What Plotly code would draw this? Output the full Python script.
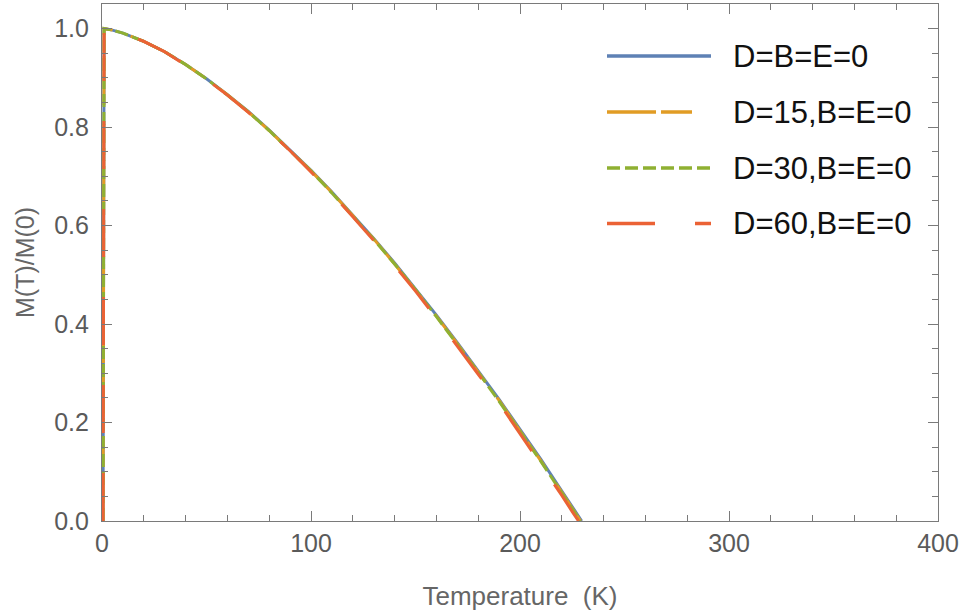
import plotly.graph_objects as go

# ---- data ----
temp_blue = [0.5, 1.0, 5, 10, 20, 30, 40, 50, 60, 70, 80, 90, 100, 110, 120, 130, 140, 150,
             160, 170, 180, 190, 200, 210, 220, 225, 229.5]
m_blue = [0.0, 1.0, 0.997, 0.991, 0.974, 0.953, 0.927, 0.898, 0.866, 0.832, 0.794, 0.754, 0.712,
          0.668, 0.622, 0.574, 0.524, 0.472, 0.418, 0.362, 0.305, 0.247, 0.186, 0.125, 0.061,
          0.029, 0.0]

temp_orange = [0.5, 1.0, 5, 10, 20, 30, 40, 50, 60, 70, 80, 90, 100, 110, 120, 130, 140, 150,
               160, 170, 180, 190, 200, 210, 220, 225, 229.0]
m_orange = [0.0, 1.0, 0.997, 0.991, 0.974, 0.953, 0.927, 0.898, 0.866, 0.831, 0.793, 0.753, 0.711,
            0.667, 0.621, 0.573, 0.522, 0.470, 0.416, 0.360, 0.303, 0.245, 0.183, 0.122, 0.058,
            0.026, 0.0]

temp_green = [0.5, 1.0, 5, 10, 20, 30, 40, 50, 60, 70, 80, 90, 100, 110, 120, 130, 140, 150,
              160, 170, 180, 190, 200, 210, 220, 225, 228.8]
m_green = [0.0, 1.0, 0.997, 0.991, 0.974, 0.953, 0.927, 0.898, 0.865, 0.831, 0.793, 0.753, 0.711,
           0.666, 0.620, 0.572, 0.522, 0.470, 0.415, 0.359, 0.302, 0.243, 0.182, 0.121, 0.057,
           0.025, 0.0]

temp_red = [0.5, 1.0, 5, 10, 20, 30, 40, 50, 60, 70, 80, 90, 100, 110, 120, 130, 140, 150,
            160, 170, 180, 190, 200, 210, 220, 225, 228.0]
m_red = [0.0, 1.0, 0.997, 0.991, 0.974, 0.953, 0.926, 0.897, 0.865, 0.830, 0.792, 0.752, 0.709,
         0.665, 0.618, 0.570, 0.519, 0.467, 0.412, 0.356, 0.298, 0.240, 0.178, 0.116, 0.052,
         0.019, 0.0]

labels = ["D=B=E=0", "D=15,B=E=0", "D=30,B=E=0", "D=60,B=E=0"]
colors = ["#5E81B5", "#E19C24", "#8FB032", "#EB6235"]
dashes = ["solid", "49px,5px,31px,19px", "13px,5px", "48px,40px"]

series = [(temp_blue, m_blue), (temp_orange, m_orange), (temp_green, m_green), (temp_red, m_red)]

# ---- layout constants ----
W, H = 963, 616
ML, MR, MT, MB = 102, 25, 4, 95
PW, PH = W - ML - MR, H - MT - MB
FRAME = "#7a7a7a"
TICKTXT = "#5a5a5a"
FONT = "Liberation Sans, Arial"

fig = go.Figure()
for (tx, my), name, col, dsh in zip(series, labels, colors, dashes):
    fig.add_trace(go.Scatter(x=tx, y=my, mode="lines", name=name,
                             line=dict(color=col, width=3, dash=dsh),
                             showlegend=False))

# legend drawn to look like the Mathematica legend
def px2paper(px, py):
    return (px - ML) / PW, (H - MB - py) / PH

row_y = [56, 112, 168, 223.5]
for name, col, dsh, ry in zip(labels, colors, dashes, row_y):
    x0, y0 = px2paper(607, ry)
    x1, _ = px2paper(711, ry)
    xt, _ = px2paper(731, ry)
    fig.add_shape(type="line", xref="paper", yref="paper", x0=x0, x1=x1, y0=y0, y1=y0,
                  line=dict(color=col, width=3.5, dash=dsh))
    fig.add_annotation(xref="paper", yref="paper", x=xt, y=y0, text=name, showarrow=False,
                       xanchor="left", yanchor="middle",
                       font=dict(family=FONT, size=31, color="#111111"))

axis_common = dict(showgrid=False, zeroline=False, showline=True, linecolor=FRAME, linewidth=1.2,
                   mirror="ticks", ticks="inside", tickcolor=FRAME, tickwidth=1, ticklen=9.5,
                   tickfont=dict(family=FONT, size=25, color=TICKTXT))

fig.update_xaxes(range=[0, 400], dtick=100, tick0=0,
                 minor=dict(dtick=20, ticks="inside", ticklen=5.5, tickcolor=FRAME, tickwidth=1),
                 title=dict(text="Temperature  (K)", standoff=30,
                            font=dict(family=FONT, size=26, color="#666666")),
                 **axis_common)
fig.update_yaxes(range=[0, 1.05], dtick=0.2, tick0=0, tickformat=".1f",
                 minor=dict(dtick=0.05, ticks="inside", ticklen=5.5, tickcolor=FRAME, tickwidth=1),
                 ticklabelstandoff=7,
                 title=dict(text="M(T)/M(0)", standoff=12,
                            font=dict(family=FONT, size=25, color="#666666")),
                 **axis_common)

fig.update_layout(width=W, height=H, margin=dict(l=ML, r=MR, t=MT, b=MB),
                  paper_bgcolor="white", plot_bgcolor="white")

fig.write_html("out.html")
